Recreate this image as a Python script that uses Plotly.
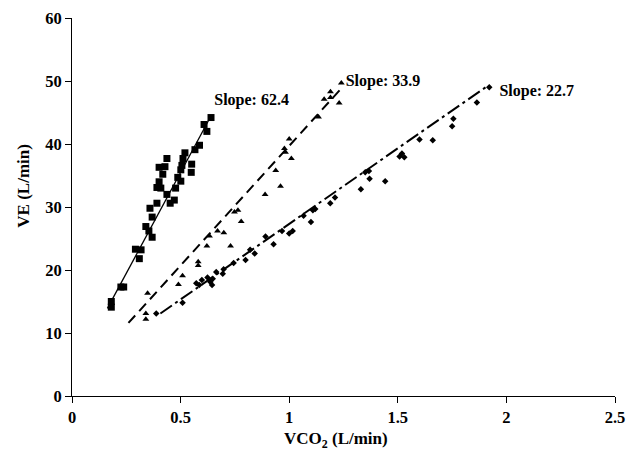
import plotly.graph_objects as go

# Squares (slope 62.4)
sq_x = [0.640, 0.608, 0.621, 0.587, 0.566, 0.520, 0.511, 0.437, 0.551, 0.506, 0.401, 0.428,
        0.501, 0.418, 0.549, 0.487, 0.401, 0.501, 0.391, 0.409, 0.477, 0.437, 0.471, 0.452,
        0.391, 0.359, 0.369, 0.340, 0.354, 0.369, 0.292, 0.318, 0.310, 0.225, 0.238, 0.181, 0.181]
sq_y = [44.2, 43.1, 42.0, 39.8, 39.1, 38.6, 37.7, 37.7, 36.8, 36.6, 36.3, 36.4,
        35.9, 35.2, 35.5, 34.7, 34.0, 34.1, 33.1, 33.0, 33.0, 32.0, 31.1, 30.6,
        30.6, 29.8, 28.4, 26.9, 26.2, 25.2, 23.3, 23.2, 21.8, 17.3, 17.3, 15.0, 14.1]
sq_line_x = [0.163, 0.636]
sq_line_y = [13.9, 44.2]

# Triangles (slope 33.9)
tr_x = [1.240, 1.190, 1.161, 1.190, 1.230, 1.135, 1.000, 0.978, 0.983, 1.010, 0.938, 0.960,
        0.889, 0.764, 0.748, 0.779, 0.670, 0.699, 0.633, 0.621, 0.730, 0.581, 0.581, 0.509,
        0.490, 0.348, 0.340, 0.340]
tr_y = [49.7, 48.3, 47.1, 47.4, 46.5, 44.3, 40.8, 39.3, 38.7, 37.7, 35.8, 33.3,
        32.0, 29.5, 29.2, 27.7, 26.2, 25.9, 25.4, 23.8, 23.8, 21.3, 20.7, 19.1,
        17.7, 16.3, 13.1, 12.2]
tr_line_x = [0.260, 1.250]
tr_line_y = [11.6, 49.2]

# Diamonds (slope 22.7)
di_x = [1.921, 1.864, 1.756, 1.750, 1.661, 1.600, 1.519, 1.508, 1.530, 1.442, 1.370, 1.350,
        1.367, 1.330, 1.211, 1.189, 1.120, 1.109, 1.100, 1.066, 1.000, 1.016, 0.967, 0.928,
        0.891, 0.841, 0.820, 0.799, 0.744, 0.698, 0.694, 0.664, 0.648, 0.645, 0.637, 0.624,
        0.598, 0.586, 0.572, 0.509, 0.388]
di_y = [49.0, 46.6, 44.0, 42.8, 40.6, 40.7, 38.5, 38.0, 37.9, 34.1, 34.5, 35.5,
        35.7, 32.8, 31.5, 30.6, 29.7, 29.5, 27.6, 28.6, 25.8, 26.2, 26.2, 24.1,
        25.3, 22.6, 23.2, 21.6, 21.1, 20.1, 19.4, 19.7, 18.6, 17.6, 18.1, 18.8,
        18.4, 17.6, 17.9, 14.8, 13.1]
di_line_x = [0.407, 1.904]
di_line_y = [13.1, 49.0]

labels = ["Slope: 62.4", "Slope: 33.9", "Slope: 22.7"]
label_x = [0.655, 1.260, 1.968]
label_y = [46.9, 49.8, 48.3]

x_ticks = [0, 0.5, 1, 1.5, 2, 2.5]
x_ticktext = ["0", "0.5", "1", "1.5", "2", "2.5"]
y_ticks = [0, 10, 20, 30, 40, 50, 60]
y_ticktext = ["0", "10", "20", "30", "40", "50", "60"]

x_title = "<b>VCO<sub>2</sub> (L/min)</b>"
y_title = "<b>VE (L/min)</b>"

font = "Liberation Serif, Times New Roman, serif"
fig = go.Figure()
fig.add_trace(go.Scatter(x=sq_x, y=sq_y, mode="markers",
                         marker=dict(symbol="square", size=7, color="black")))
fig.add_trace(go.Scatter(x=sq_line_x, y=sq_line_y, mode="lines",
                         line=dict(color="black", width=1.3)))
fig.add_trace(go.Scatter(x=tr_x, y=tr_y, mode="markers",
                         marker=dict(symbol="triangle-up", size=6, color="black")))
fig.add_trace(go.Scatter(x=tr_line_x, y=tr_line_y, mode="lines",
                         line=dict(color="black", width=2, dash="10px,6px")))
fig.add_trace(go.Scatter(x=di_x, y=di_y, mode="markers",
                         marker=dict(symbol="diamond", size=5, color="black")))
fig.add_trace(go.Scatter(x=di_line_x, y=di_line_y, mode="lines",
                         line=dict(color="black", width=2, dash="14px,4px,3px,4px")))
fig.add_trace(go.Scatter(x=label_x, y=label_y, mode="text",
                         text=["<b>" + t + "</b>" for t in labels],
                         textposition="middle right",
                         textfont=dict(family=font, size=16, color="black")))

fig.add_annotation(text=y_title, xref="paper", yref="y", x=-0.090, y=33.4,
                   textangle=-90, showarrow=False, xanchor="center", yanchor="middle",
                   font=dict(family=font, size=17, color="black"))
fig.add_annotation(text=x_title, xref="paper", yref="paper", x=0.486, y=0, yshift=-44,
                   showarrow=False, xanchor="center", yanchor="middle",
                   font=dict(family=font, size=17, color="black"))

fig.update_layout(
    width=638, height=456,
    margin=dict(l=64, r=31, t=10, b=68),
    paper_bgcolor="white", plot_bgcolor="white",
    showlegend=False,
    font=dict(family=font, size=16, color="black"),
    xaxis=dict(range=[0, 2.5], showgrid=False, zeroline=False, automargin=False,
               showline=True, linecolor="black", linewidth=1,
               ticks="outside", ticklen=6, tickcolor="black",
               tickvals=x_ticks, ticktext=["<b>" + t + "</b>" for t in x_ticktext],
               tickfont=dict(family=font, size=16.5, color="black")),
    yaxis=dict(range=[0, 60], showgrid=False, zeroline=False, automargin=False,
               showline=True, linecolor="black", linewidth=1,
               ticks="outside", ticklen=6, tickcolor="black",
               tickvals=y_ticks, ticktext=["<b>" + t + "</b>" for t in y_ticktext],
               tickfont=dict(family=font, size=16.5, color="black")),
)
fig.write_html("out.html")
